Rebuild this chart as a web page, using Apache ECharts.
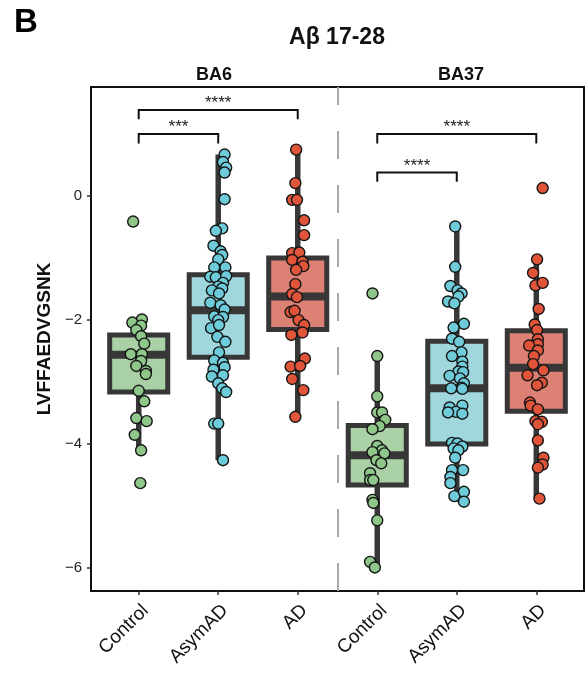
<!DOCTYPE html>
<html>
<head>
<meta charset="utf-8">
<script src="https://cdn.jsdelivr.net/npm/echarts@6/dist/echarts.min.js"></script>
<style>
html,body{margin:0;padding:0;background:#fff;}
#chart{width:586px;height:678px;}
</style>
</head>
<body>
<div id="chart"></div>
<script>
// ---------- data ----------
const categories = ['Control', 'AsymAD', 'AD', 'Control', 'AsymAD', 'AD'];
const regions = ['BA6', 'BA37'];
const groupPos = [1, 2, 3, 4, 5, 6];
const yTicks = [-6, -4, -2, 0];
const mainTitle = 'Aβ 17-28';
const yName = 'LVFFAEDVGSNK';
const panelLetter = 'B';

// box summaries: [lower whisker, Q1, median, Q3, upper whisker]
const boxStats = [
  [-4.10, -3.16, -2.56, -2.24, -1.99],
  [-4.26, -2.60, -1.84, -1.27, 0.67],
  [-3.56, -2.15, -1.62, -1.00, 0.75],
  [-5.99, -4.66, -4.18, -3.70, -2.58],
  [-4.93, -4.00, -3.10, -2.34, -0.49],
  [-4.88, -3.47, -2.77, -2.17, -1.02]
];

const values1 = [-0.41,-1.99,-2.04,-2.09,-2.16,-2.26,-2.38,-2.55,-2.55,-2.66,-2.74,-2.82,-2.87,-3.14,-3.31,-3.58,-3.63,-3.85,-4.10,-4.63];
const jitter1 = [-0.07,0.04,-0.08,0.03,-0.03,0.03,0.07,-0.10,0.04,0.03,-0.03,0.09,0.09,0.00,0.07,-0.03,0.10,-0.05,0.03,0.02];

const values2 = [0.67,0.55,0.46,0.38,-0.05,-0.52,-0.56,-0.80,-0.89,-0.95,-1.02,-1.15,-1.15,-1.30,-1.31,-1.29,-1.40,-1.46,-1.52,-1.49,-1.57,-1.72,-1.76,-1.83,-1.94,-1.95,-2.00,-2.13,-2.08,-2.27,-2.35,-2.52,-2.65,-2.69,-2.80,-2.76,-2.91,-2.89,-3.02,-3.10,-3.16,-3.67,-3.67,-4.26];
const jitter2 = [0.08,0.06,0.10,0.08,0.08,0.05,-0.03,-0.06,0.03,0.05,0,-0.05,0.09,-0.10,-0.03,0.10,0.06,0,-0.08,0.05,0.01,-0.10,0.03,0.08,-0.05,0.06,0,-0.09,0.01,-0.01,0.09,0.01,-0.05,0.06,-0.06,0.08,-0.08,0.06,0,0.05,0.10,-0.05,0,0.06];

const values3 = [0.75,0.21,-0.06,-0.06,-0.39,-0.63,-0.92,-0.91,-1.03,-1.06,-1.13,-1.19,-1.42,-1.58,-1.63,-1.87,-1.85,-2.00,-2.08,-2.20,-2.24,-2.62,-2.75,-2.74,-2.95,-3.13,-3.56];
const jitter3 = [-0.02,-0.03,-0.07,-0.01,0.08,0.08,-0.07,0.02,-0.07,0.06,0.07,-0.02,-0.03,-0.07,-0.01,-0.09,-0.04,0.01,0.08,0.06,-0.08,0.09,-0.09,0.03,-0.07,0.07,-0.03];

const values4 = [-1.57,-2.58,-3.23,-3.49,-3.49,-3.61,-3.71,-3.76,-4.03,-4.10,-4.13,-4.15,-4.26,-4.31,-4.47,-4.58,-4.58,-4.90,-4.95,-5.23,-5.90,-5.99];
const jitter4 = [-0.06,0,0,0,0.06,0.10,0.03,-0.06,0,0.06,-0.06,0.09,-0.01,0.05,-0.09,-0.09,-0.05,-0.06,-0.05,0,-0.09,-0.03];

const values5 = [-0.49,-1.14,-1.45,-1.52,-1.57,-1.62,-1.70,-1.73,-2.06,-2.12,-2.30,-2.35,-2.52,-2.58,-2.67,-2.75,-2.83,-2.84,-2.90,-2.94,-3.02,-3.09,-3.10,-3.11,-3.41,-3.38,-3.48,-3.49,-3.51,-3.98,-3.99,-4.04,-4.07,-4.10,-4.22,-4.42,-4.42,-4.53,-4.63,-4.84,-4.77,-4.93];
const jitter5 = [-0.02,-0.02,-0.08,0.01,0.06,0.02,-0.11,-0.03,0.09,-0.04,-0.06,0.03,0.06,-0.06,0.07,0.07,0.02,0.08,-0.09,0.04,0.09,0.06,-0.07,0.07,-0.09,0.07,-0.01,-0.11,0.07,-0.06,0.01,0.07,-0.04,0.02,-0.02,0.08,-0.06,-0.08,-0.08,-0.03,0.09,0.09];

const values6 = [0.13,-1.02,-1.24,-1.44,-1.40,-1.82,-2.07,-2.16,-2.31,-2.39,-2.41,-2.49,-2.58,-2.71,-2.81,-2.89,-3.01,-3.05,-3.33,-3.38,-3.44,-3.63,-3.64,-3.68,-3.94,-4.22,-4.33,-4.38,-4.88];
const jitter6 = [0.08,0.01,-0.04,-0.01,0.08,0.03,-0.02,0.01,0.02,0.02,-0.09,0.02,-0.03,-0.04,0.09,-0.11,0.07,0.01,-0.08,-0.07,0.02,-0.01,0.07,0.02,0.02,0.09,0.08,0.02,0.04];

// significance brackets
const bracketFrom = [1, 1, 4, 4];
const bracketTo = [2, 3, 5, 6];
const bracketY = [1.00, 1.39, 0.38, 1.00];
const bracketLabels = ['***', '****', '****', '****'];

// ---------- styles ----------
const allValues = [values1, values2, values3, values4, values5, values6];
const allJitter = [jitter1, jitter2, jitter3, jitter4, jitter5, jitter6];
const pointColors = ['#8fc689', '#6ecbd9', '#e0553a', '#8fc689', '#6ecbd9', '#e0553a'];
const boxFills = ['#aad1a6', '#9fd7dd', '#dd8174', '#aad1a6', '#9fd7dd', '#dd8174'];
const dark = '#373737';
const FONT = 'Arial, "Liberation Sans", Helvetica, sans-serif';
const boxHalf = 0.365;
const legDrop = 0.15;
const minus = v => (v < 0 ? '\u2212' : '') + Math.abs(v);

const chart = echarts.init(document.getElementById('chart'));

const scatterSeries = allValues.map((vals, g) => ({
  type: 'scatter',
  z: 5,
  symbolSize: 11,
  itemStyle: { color: pointColors[g], borderColor: '#151515', borderWidth: 1.4, opacity: 1 },
  silent: true,
  data: vals.map((v, i) => [groupPos[g] + allJitter[g][i], v])
}));

const boxSeries = {
  type: 'custom',
  z: 2,
  silent: true,
  encode: { x: 0, y: [1, 2, 3, 4, 5] },
  data: boxStats.map((s, g) => [groupPos[g]].concat(s)),
  renderItem: function (params, api) {
    const x = api.value(0);
    const pLo = api.coord([x, api.value(1)]);
    const pQ1 = api.coord([x, api.value(2)]);
    const pMed = api.coord([x, api.value(3)]);
    const pQ3 = api.coord([x, api.value(4)]);
    const pHi = api.coord([x, api.value(5)]);
    const half = api.size([boxHalf, 0])[0];
    const cx = pMed[0];
    return {
      type: 'group',
      children: [
        { type: 'line', shape: { x1: cx, y1: pLo[1], x2: cx, y2: pHi[1] },
          style: { stroke: dark, lineWidth: 5.5 } },
        { type: 'rect', shape: { x: cx - half, y: pQ3[1], width: 2 * half, height: pQ1[1] - pQ3[1] },
          style: { fill: boxFills[params.dataIndex], stroke: dark, lineWidth: 5 } },
        { type: 'line', shape: { x1: cx - half, y1: pMed[1], x2: cx + half, y2: pMed[1] },
          style: { stroke: dark, lineWidth: 8 } }
      ]
    };
  },
  markLine: {
    silent: true,
    symbol: 'none',
    label: { show: false },
    lineStyle: { color: '#a8a8a8', width: 2, type: [28, 26] },
    data: [{ xAxis: 3.5 }]
  }
};

const bracketSeries = {
  type: 'custom',
  z: 6,
  silent: true,
  encode: { x: [0, 1], y: 2 },
  data: bracketFrom.map((f, i) => [f, bracketTo[i], bracketY[i]]),
  renderItem: function (params, api) {
    const y = api.value(2);
    const a = api.coord([api.value(0), y]);
    const b = api.coord([api.value(1), y]);
    const aLow = api.coord([api.value(0), y - legDrop]);
    return {
      type: 'group',
      children: [
        { type: 'polyline', shape: { points: [[a[0], aLow[1]], a, b, [b[0], aLow[1]]] },
          style: { stroke: '#111', lineWidth: 2, fill: null } },
        { type: 'text', x: (a[0] + b[0]) / 2, y: a[1] + 2,
          style: { text: bracketLabels[params.dataIndex], fill: '#222', font: '17px ' + FONT,
                   textAlign: 'center', textVerticalAlign: 'bottom' } }
      ]
    };
  }
};

const option = {
  backgroundColor: '#fff',
  animation: false,
  textStyle: { fontFamily: FONT },
  grid: { left: 91, right: 2, top: 87, bottom: 87, show: true, borderColor: '#111', borderWidth: 2, containLabel: false },
  xAxis: {
    type: 'value', min: 0.4, max: 6.6,
    splitLine: { show: false },
    axisLine: { show: true, onZero: false, lineStyle: { color: '#111', width: 2 } },
    axisTick: { show: true, customValues: groupPos, length: 4, lineStyle: { color: '#333', width: 1.5 } },
    axisLabel: { customValues: groupPos, rotate: 45, margin: 10, fontSize: 19, color: '#111', fontFamily: FONT,
                 verticalAlign: 'top',
                 formatter: v => categories[Math.round(v) - 1] || '' }
  },
  yAxis: {
    type: 'value', min: -6.37, max: 1.76,
    name: yName, nameLocation: 'middle', nameGap: 34,
    nameTextStyle: { fontSize: 19, fontWeight: 'bold', color: '#111', fontFamily: FONT },
    splitLine: { show: false },
    axisLine: { show: true, onZero: false, lineStyle: { color: '#111', width: 2 } },
    axisTick: { show: true, customValues: yTicks, length: 4, lineStyle: { color: '#333', width: 1.5 } },
    axisLabel: { customValues: yTicks, margin: 9, fontSize: 15, color: '#222', fontFamily: FONT, formatter: minus }
  },
  graphic: [
    { type: 'text', left: 14, top: 6, style: { text: panelLetter, font: 'bold 33px ' + FONT, fill: '#000' } },
    { type: 'text', x: 337, y: 38, style: { text: mainTitle, font: 'bold 23px ' + FONT, fill: '#111', textAlign: 'center', textVerticalAlign: 'middle' } },
    { type: 'text', x: 214, y: 75, style: { text: regions[0], font: 'bold 18px ' + FONT, fill: '#111', textAlign: 'center', textVerticalAlign: 'middle' } },
    { type: 'text', x: 461, y: 75, style: { text: regions[1], font: 'bold 18px ' + FONT, fill: '#111', textAlign: 'center', textVerticalAlign: 'middle' } }
  ],
  series: [boxSeries].concat(scatterSeries).concat([bracketSeries])
};
chart.setOption(option);
</script>
</body>
</html>
